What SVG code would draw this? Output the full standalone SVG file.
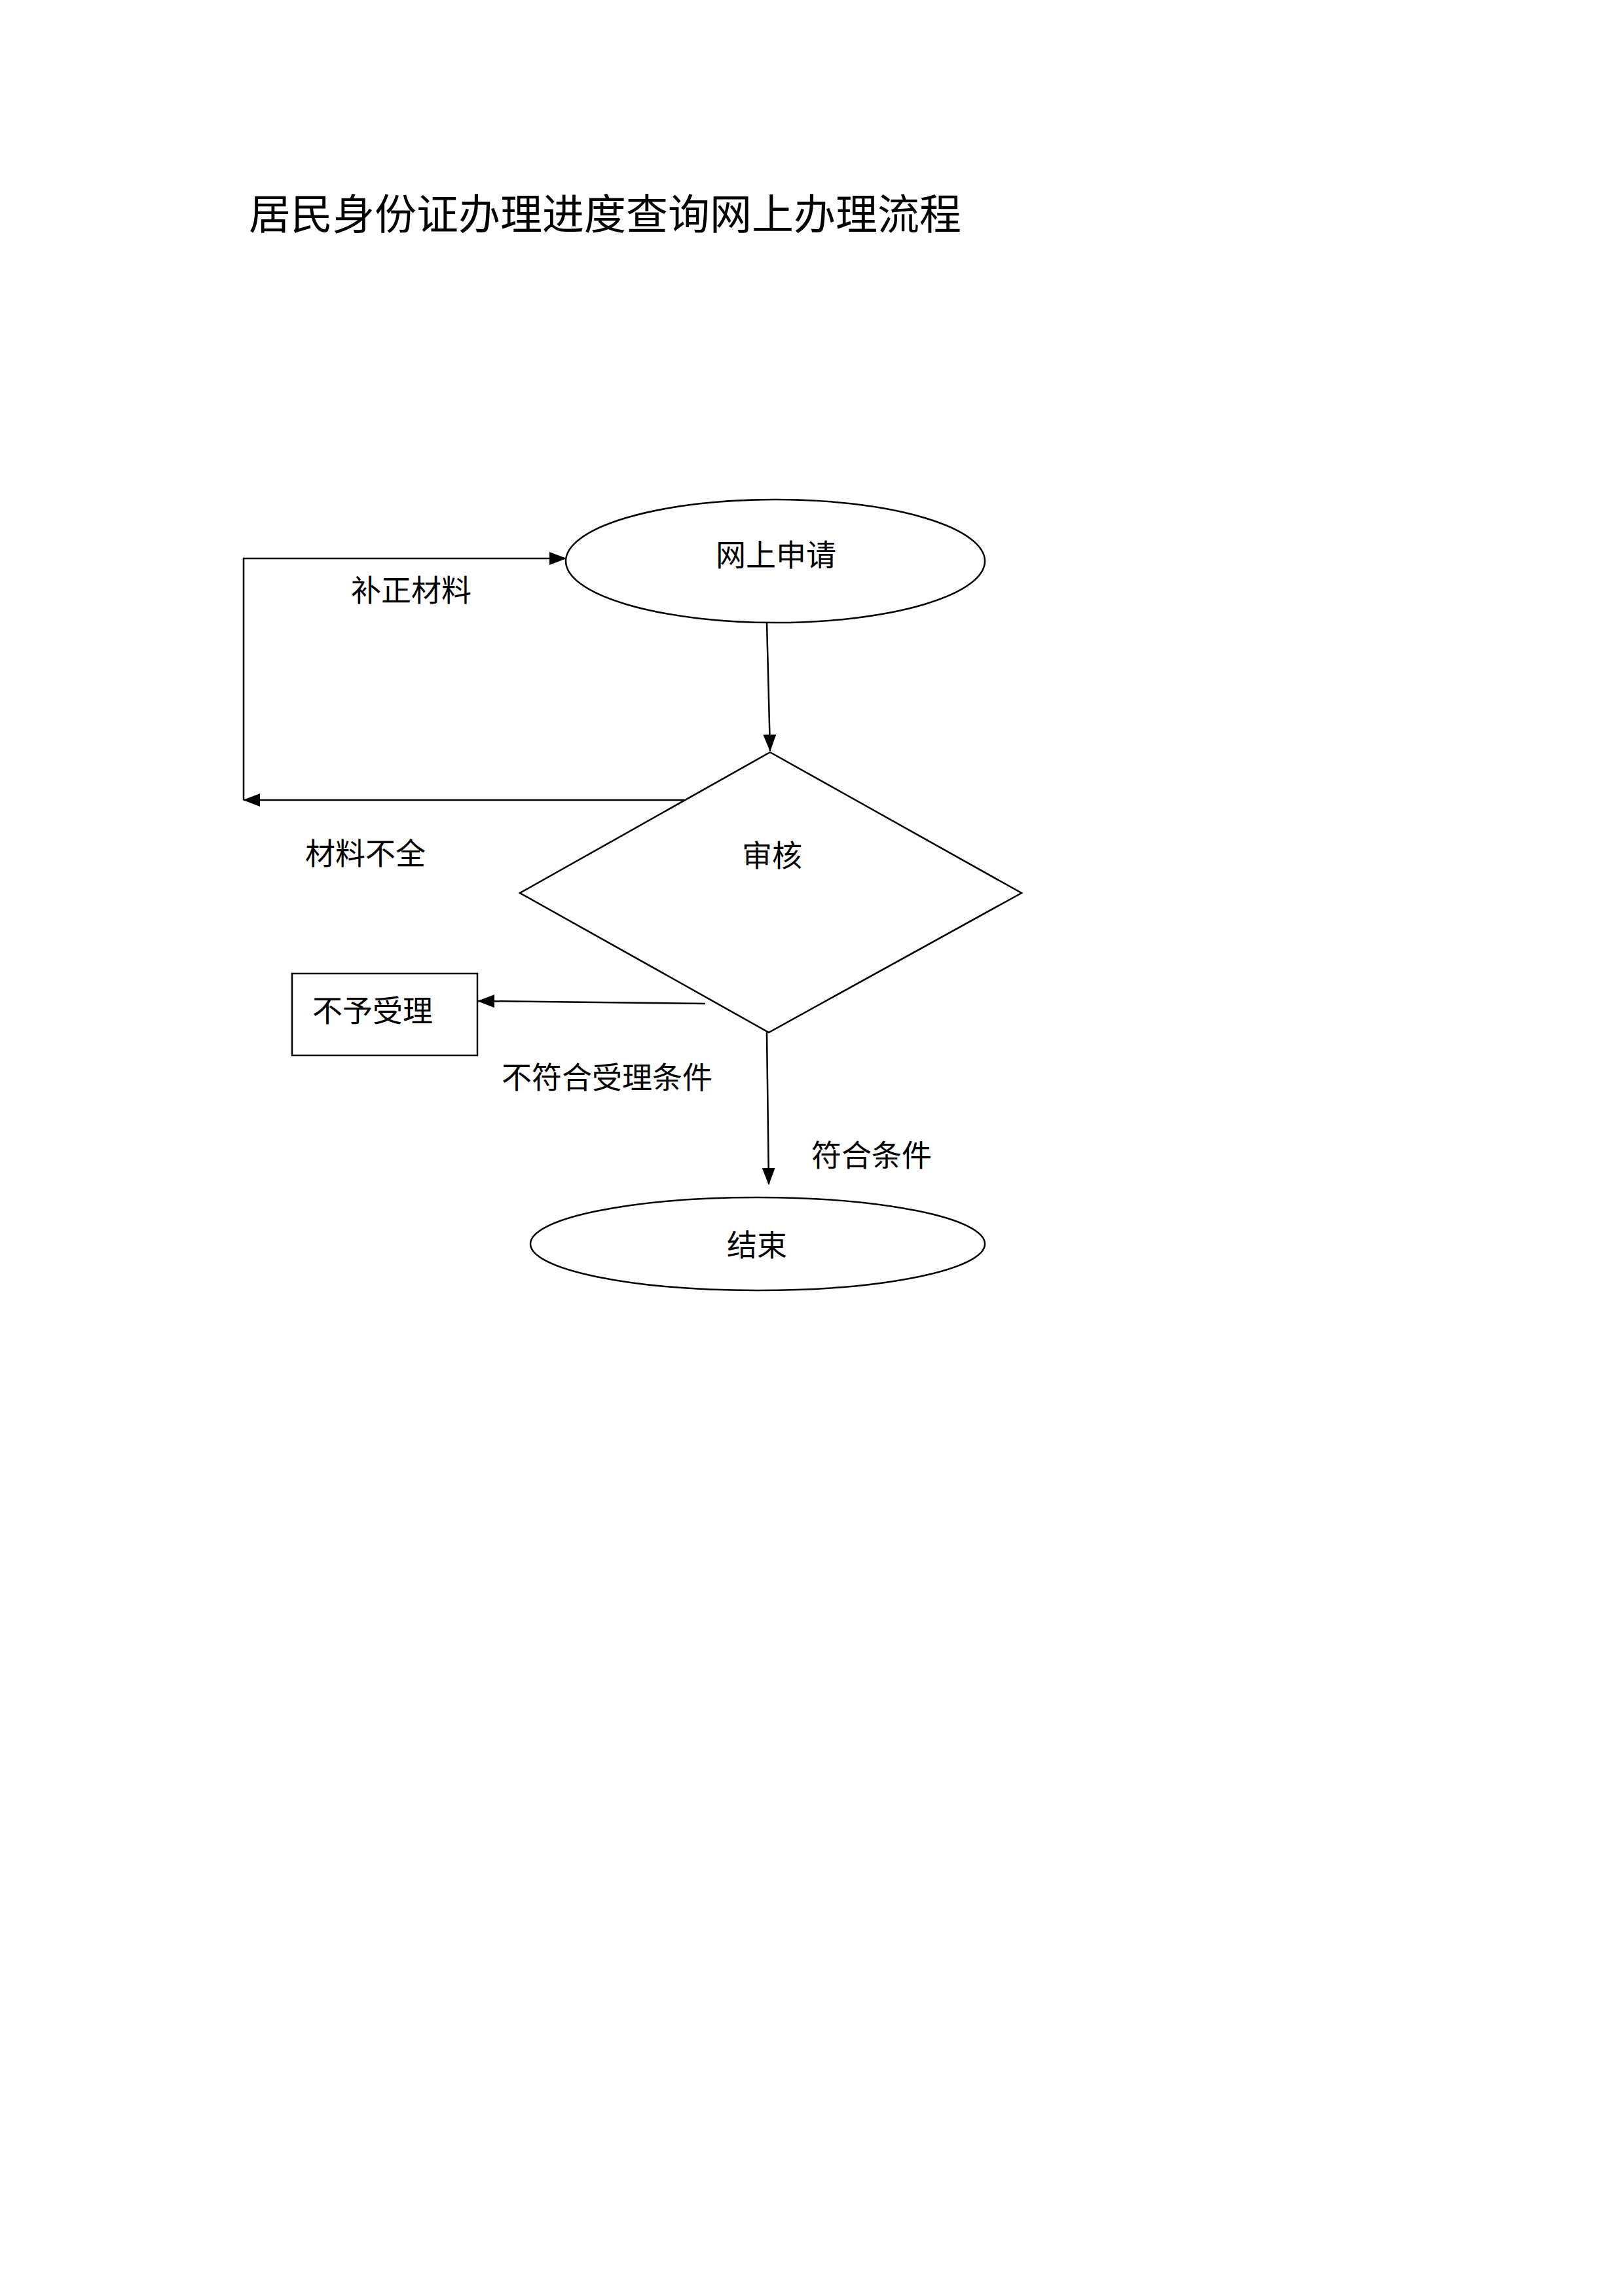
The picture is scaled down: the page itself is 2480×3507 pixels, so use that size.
<svg xmlns="http://www.w3.org/2000/svg" width="2480" height="3507" viewBox="0 0 2480 3507">
<style>
text{font-family:"Liberation Sans","Noto Sans CJK SC",sans-serif;fill:#000;text-anchor:middle}
.lbl{font-size:46px}
.title{font-size:64px;text-anchor:start}
.shape{fill:#fff;stroke:#000;stroke-width:2.5}
.conn{fill:none;stroke:#000;stroke-width:2.5}
</style>
<defs>
<marker id="arr" markerUnits="userSpaceOnUse" markerWidth="26" markerHeight="20" viewBox="0 0 26 20" refX="25" refY="10" orient="auto">
<path d="M0,0 L26,10 L0,20 Z" fill="#000"/>
</marker>
</defs>
<rect width="2480" height="3507" fill="#fff"/>
<text class="title" x="380" y="350">居民身份证办理进度查询网上办理流程</text>
<g id="connectors">
<path class="conn" d="M1171,951 L1176,1147" marker-end="url(#arr)"/>
<path class="conn" d="M1045,1222 L372,1222" marker-end="url(#arr)"/>
<path class="conn" d="M372,1222 L372,853 L864,853" marker-end="url(#arr)"/>
<path class="conn" d="M1077,1533 L730,1529" marker-end="url(#arr)"/>
<path class="conn" d="M1171,1577 L1174,1809" marker-end="url(#arr)"/>
<text class="lbl" x="628" y="918">补正材料</text>
<text class="lbl" x="558" y="1320">材料不全</text>
<text class="lbl" x="927" y="1662">不符合受理条件</text>
<text class="lbl" x="1331" y="1781">符合条件</text>
</g>
<g id="apply">
<ellipse class="shape" cx="1184" cy="857" rx="320" ry="94"/>
<text class="lbl" x="1185" y="864">网上申请</text>
</g>
<g id="review">
<polygon class="shape" points="1176,1149 1560,1364 1174,1577 794,1364"/>
<text class="lbl" x="1179" y="1323">审核</text>
</g>
<g id="reject">
<rect class="shape" x="446" y="1487" width="283" height="125"/>
<text class="lbl" x="569" y="1560">不予受理</text>
</g>
<g id="end">
<ellipse class="shape" cx="1157" cy="1900" rx="347" ry="71"/>
<text class="lbl" x="1156" y="1918">结束</text>
</g>
</svg>
